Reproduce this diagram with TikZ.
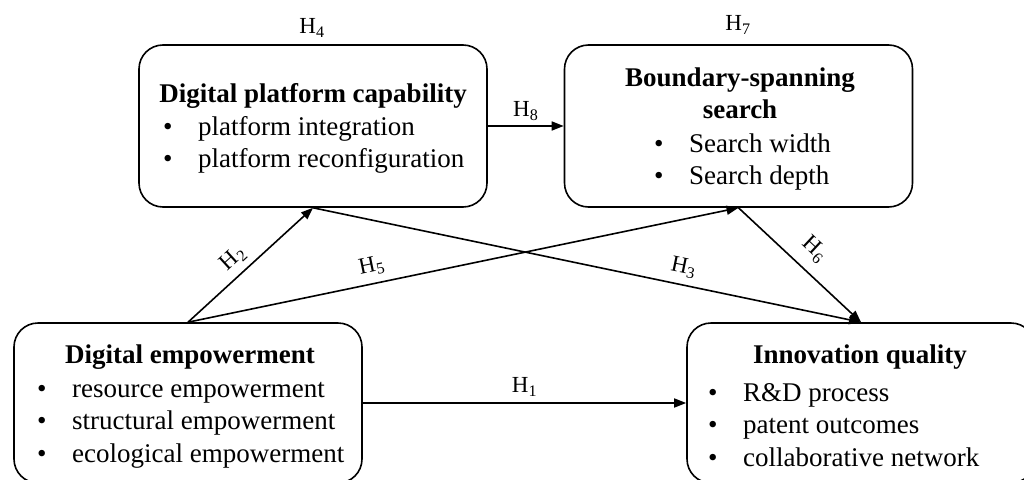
\documentclass[tikz,border=0pt]{standalone}
\usepackage{fontspec}
\setmainfont{Liberation Serif}
\usetikzlibrary{arrows.meta}

\tikzstyle{box}=[draw=black, line width=1.6pt, rounded corners=24pt, minimum width=348pt, minimum height=162pt, inner sep=0pt]
\tikzstyle{title}=[font=\fontsize{27}{32}\selectfont\bfseries, align=center, inner sep=0pt]
\tikzstyle{items}=[font=\fontsize{27}{32.5}\selectfont, align=left, anchor=west, inner sep=0pt]
\tikzstyle{hyp}=[font=\fontsize{23}{27}\selectfont, inner sep=2pt]
\tikzstyle{link}=[-{Triangle[length=12pt,width=9pt]}, line width=1.6pt]

\newcommand{\itm}[1]{\makebox[35pt][l]{\textbullet}#1}

\begin{document}
\begin{tikzpicture}[x=1pt, y=-1pt]
	\useasboundingbox (0,0) rectangle (1024,479);

	% Kaesten
	\node(dpc) at (313,126) [box] {};
	\node(bss) at (738.5,126) [box] {};
	\node(de) at (188,403) [box, minimum height=160pt] {};
	\node(iq) at (861,403) [box, minimum height=160pt] {};

	% Texte
	\node(dpcTitle) at (313,96) [title] {Digital platform capability};
	\node(dpcItems) at (163,145) [items] {\itm{platform integration}\\\itm{platform reconfiguration}};
	\node(bssTitle) at (740,93) [title] {Boundary-spanning\\search};
	\node(bssItems) at (654,162) [items] {\itm{Search width}\\\itm{Search depth}};
	\node(deTitle) at (190,357) [title] {Digital empowerment};
	\node(deItems) at (37,425) [items] {\itm{resource empowerment}\\\itm{structural empowerment}\\\itm{ecological empowerment}};
	\node(iqTitle) at (860,357) [title] {Innovation quality};
	\node(iqItems) at (708,425) [items] {\itm{R\&D process}\\\itm{patent outcomes}\\\itm{collaborative network}};

	\node(hFour) at (312,28) [hyp] {H\textsubscript{4}};
	\node(hSeven) at (738,25) [hyp] {H\textsubscript{7}};

	% Pfeile
	\draw[link] (de.east) -> node[hyp, midway, above=4pt]{H\textsubscript{1}} (iq.west);
	\draw[link] (de.north) -> node[hyp, pos=0.45, above=4pt, sloped]{H\textsubscript{2}} (dpc.south);
	\draw[link] (dpc.south) -> node[hyp, pos=0.67, above=5pt, sloped]{H\textsubscript{3}} (iq.north);
	\draw[link] (de.north) -> node[hyp, pos=0.34, above=5pt, sloped]{H\textsubscript{5}} (bss.south);
	\draw[link] (bss.south) -> node[hyp, pos=0.5, above=9pt, sloped]{H\textsubscript{6}} (iq.north);
	\draw[link] (dpc.east) -> node[hyp, midway, above=3pt]{H\textsubscript{8}} (bss.west);

\end{tikzpicture}
\end{document}
